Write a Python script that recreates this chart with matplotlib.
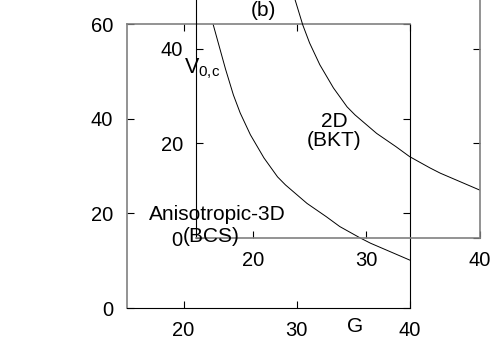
import matplotlib
matplotlib.use('Agg')
import matplotlib.pyplot as plt

# Data (same curve drawn in both offset frames)
G = [22.6, 23.7, 24.4, 25.0, 25.9, 27.1, 28.3, 29.0, 30.9, 32.6, 33.8, 35.6, 36.5, 40.0]
V = [60.0, 50.5, 45.0, 41.2, 36.6, 31.7, 27.7, 26.0, 22.1, 19.3, 17.2, 14.8, 13.7, 10.1]
x_ticks = [20, 30, 40]
y_ticks_a = [0, 20, 40, 60]
y_ticks_b = [0, 20, 40]
x_lim = (15, 40)
y_lim = (0, 60)

plt.rcParams['font.family'] = ['Liberation Sans', 'DejaVu Sans']
plt.rcParams['font.size'] = 14
plt.rcParams['mathtext.fontset'] = 'custom'
plt.rcParams['mathtext.rm'] = 'Liberation Sans'
plt.rcParams['mathtext.it'] = 'Liberation Sans'

W, H = 500, 350
fig = plt.figure(figsize=(5, 3.5), dpi=100)


def rect(l, t, r, b):
    return [l / W, 1 - b / H, (r - l) / W, (b - t) / H]


GRAY = '#808080'
BLACK = '#000000'


def frame(r, spine_cols, xpad, ypad, yticks):
    ax = fig.add_axes(r)
    ax.patch.set_alpha(0)
    ax.set_xlim(*x_lim)
    ax.set_ylim(*y_lim)
    for side, c in spine_cols.items():
        ax.spines[side].set_color(c)
        ax.spines[side].set_linewidth(1.2 if c == GRAY else 0.8)
    ax.set_xticks(x_ticks)
    ax.set_yticks(yticks)
    ax.tick_params(axis='x', direction='in', length=5, width=0.8,
                   top=True, bottom=True, pad=xpad, labelsize=14.5)
    ax.tick_params(axis='y', direction='in', length=5, width=0.8,
                   left=True, right=True, pad=ypad, labelsize=14.5)
    for t in ax.xaxis.get_major_ticks():
        t.tick1line.set_color(spine_cols['bottom'])
        t.tick2line.set_color(spine_cols['top'])
    for t in ax.yaxis.get_major_ticks():
        t.tick1line.set_color(spine_cols['left'])
        t.tick2line.set_color(spine_cols['right'])
    ax.plot(G, V, color='black', lw=0.7)
    return ax


axA = frame(rect(127, 24, 410, 308),
            {'left': GRAY, 'top': GRAY, 'bottom': BLACK, 'right': BLACK},
            xpad=9, ypad=10, yticks=y_ticks_a)
axB = frame(rect(196, -46, 480, 238),
            {'left': BLACK, 'top': GRAY, 'bottom': GRAY, 'right': GRAY},
            xpad=9.5, ypad=9.5, yticks=y_ticks_b)


def ftext(x, y, s, **kw):
    fig.text(x / W, 1 - y / H, s, **kw)


ftext(263, 11, '(b)', ha='center', va='center', fontsize=15)
ftext(184, 69, r'$\mathrm{V}_{\mathrm{0{,}c}}$', ha='left', va='center', fontsize=15.5)
ftext(334, 131, '2D\n(BKT)', ha='center', va='center', fontsize=15,
      linespacing=1.05)
ftext(217, 214, 'Anisotropic-3D', ha='center', va='center', fontsize=15)
ftext(211, 237, '(BCS)', ha='center', va='center', fontsize=15)
ftext(355, 327, 'G', ha='center', va='center', fontsize=15)

fig.savefig('out.png', dpi=100)
